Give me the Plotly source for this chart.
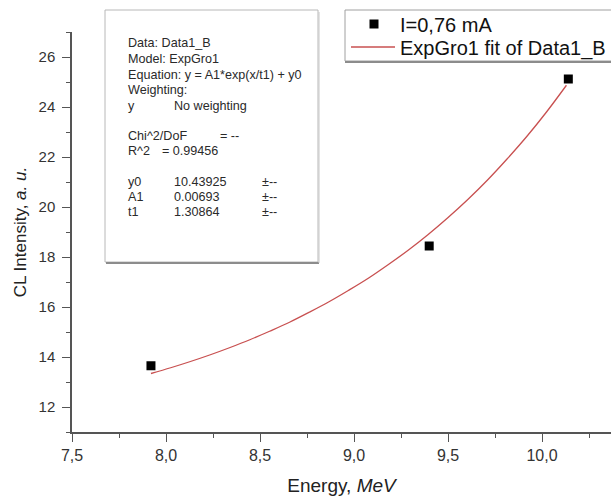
import plotly.graph_objects as go

# Measured data points (axis units as drawn)
energy = [7.92, 9.40, 10.14]
intensity = [13.65, 18.44, 25.12]

# Fit curve
fit_energy = [7.920, 8.025, 8.130, 8.236, 8.341, 8.446, 8.551, 8.657, 8.762, 8.867, 8.972,
              9.078, 9.183, 9.288, 9.393, 9.499, 9.604, 9.709, 9.814, 9.920, 10.025, 10.130]
fit_intensity = [13.34, 13.57, 13.82, 14.09, 14.38, 14.69, 15.03, 15.39, 15.79, 16.21, 16.67,
                 17.16, 17.70, 18.27, 18.89, 19.57, 20.29, 21.07, 21.92, 22.83, 23.81, 24.87]

series_name = "I=0,76 mA"
fit_name = "ExpGro1 fit of Data1_B"

box_lines_left = ["Data: Data1_B", "Model: ExpGro1", "Equation: y = A1*exp(x/t1) + y0",
                  "Weighting:", "y", "", "Chi^2/DoF", "R^2", "", "y0", "A1", "t1"]
box_col2 = {4: "No weighting", 9: "10.43925", 10: "0.00693", 11: "1.30864"}
box_col_eq = {6: "= --", 7: "= 0.99456"}
box_col3 = {9: "±--", 10: "±--", 11: "±--"}

FONT = "Liberation Sans, Arial, sans-serif"
TXT = "#2a2a2a"
FIT_COLOR = "#c85050"

fig = go.Figure()
fig.add_trace(go.Scatter(x=energy, y=intensity, mode="markers", name=series_name,
                         showlegend=False,
                         marker=dict(symbol="square", size=9, color="black")))
fig.add_trace(go.Scatter(x=fit_energy, y=fit_intensity, mode="lines", name=fit_name,
                         showlegend=False,
                         line=dict(color=FIT_COLOR, width=1.3, shape="spline")))

W, H = 611, 496
L, B, T, R = 72, 64, 32, 0
pw, ph = W - L - R, H - B - T

def px2paper(px, py):
    return (px - L) / pw, (H - B - py) / ph

def add_rect(px0, py0, px1, py1, line, fill="white"):
    a, b = px2paper(px0, py0)
    c, d = px2paper(px1, py1)
    fig.add_shape(type="rect", xref="paper", yref="paper", x0=a, y0=d, x1=c, y1=b,
                  line=line, fillcolor=fill, layer="above")

def add_line(px0, py0, px1, py1, line):
    a, b = px2paper(px0, py0)
    c, d = px2paper(px1, py1)
    fig.add_shape(type="line", xref="paper", yref="paper", x0=a, y0=b, x1=c, y1=d,
                  line=line, layer="above")

def add_text(px, py, txt, size, color=TXT):
    a, b = px2paper(px, py)
    fig.add_annotation(x=a, y=b, xref="paper", yref="paper", text=txt, showarrow=False,
                       xanchor="left", yanchor="middle",
                       font=dict(family=FONT, size=size, color=color))

# stats box
add_rect(105, 10, 318, 262, dict(color="#b8b8b8", width=1))
add_line(106, 263, 319, 263, dict(color="#8c8c8c", width=2))
add_line(319, 12, 319, 263, dict(color="#c8c8c8", width=1))

BOX_FS = 12.6
line_y = [43, 59, 75, 90, 106, 0, 136, 151, 0, 182, 197, 212]
for i, txt in enumerate(box_lines_left):
    if txt:
        add_text(126, line_y[i], txt, BOX_FS)
for i, txt in box_col2.items():
    add_text(172, line_y[i], txt, BOX_FS)
for i, txt in box_col3.items():
    add_text(260, line_y[i], txt, BOX_FS)
for i, txt in box_col_eq.items():
    add_text(218 if i == 6 else 160, line_y[i], txt, BOX_FS)

# legend box (drawn by hand to match spacing)
add_rect(345, 10, 640, 61, dict(color="#a0a0a0", width=1))
add_line(345, 62, 640, 62, dict(color="#8c8c8c", width=2))
add_rect(369.5, 19.5, 378.5, 28.5, dict(color="black", width=0), fill="black")
add_line(351, 47, 395, 47, dict(color=FIT_COLOR, width=1.3))
add_text(398, 25, series_name, 20, "#111111")
add_text(398, 48, fit_name, 20, "#111111")

common = dict(showline=True, linecolor="#555555", linewidth=1.5, ticks="outside",
              tickcolor="#555555", tickwidth=1.2, ticklen=8, showgrid=False, zeroline=False,
              mirror=False)

fig.update_layout(
    width=W, height=H, margin=dict(l=L, r=R, t=T, b=B),
    paper_bgcolor="white", plot_bgcolor="white",
    separators=", ",
    font=dict(family=FONT, color="#222222"),
    showlegend=False,
    xaxis=dict(range=[7.5, 10.367], tick0=7.5, dtick=0.5, tickformat=".1f",
               tickfont=dict(family=FONT, size=16, color="#333333"),
               minor=dict(dtick=0.25, tick0=7.5, ticks="outside", ticklen=4, tickcolor="#555555"),
               title=dict(text="Energy, <i>MeV</i>", font=dict(family=FONT, size=19, color="#222222"),
                          standoff=20),
               **common),
    yaxis=dict(range=[11, 27], tick0=12, dtick=2, ticklabelstandoff=4,
               tickfont=dict(family=FONT, size=15, color="#333333"),
               minor=dict(dtick=1, tick0=11, ticks="outside", ticklen=4, tickcolor="#555555"),
               title=dict(text="CL Intensity, <i>a. u.</i>", font=dict(family=FONT, size=17, color="#222222"),
                          standoff=8),
               **common),
)

fig.write_html("out.html")
